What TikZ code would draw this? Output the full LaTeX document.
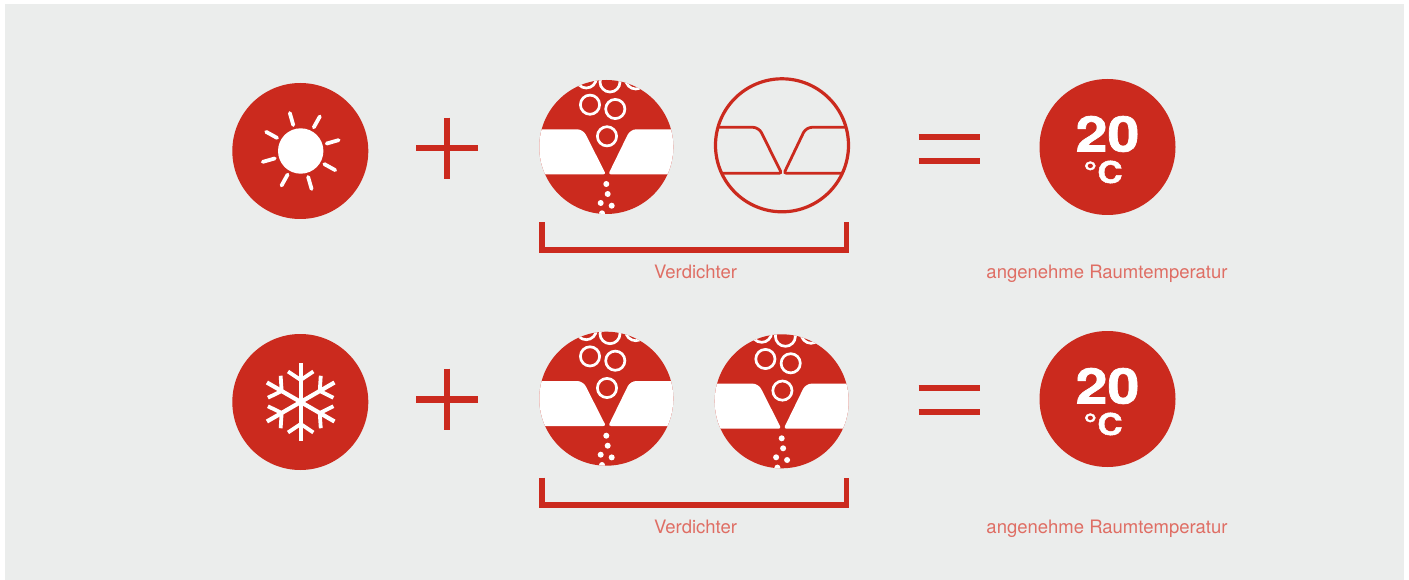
\documentclass[tikz,border=0pt]{standalone}
\usepackage{fontspec}
\setmainfont{TeX Gyre Heros}
\newfontfamily\tempfont[FakeStretch=1.17,BoldFeatures={FakeBold=1.5}]{TeX Gyre Heros}
\definecolor{bgrey}{HTML}{EBEDEC}
\definecolor{kred}{HTML}{CB2A1E}
\definecolor{lred}{HTML}{DF6E64}
\tikzset{
  caption/.style={text=lred,font=\fontsize{18.5}{20}\selectfont,inner sep=0pt,anchor=base},
  temptext/.style={text=white,font=\tempfont\bfseries\fontsize{#1}{#1}\selectfont,inner sep=0pt},
  bar/.style={kred,line width=6.4pt},
  bubble/.style={white,line width=2.7pt}
}
% left and right wing of the compressor, relative to its centre
\newcommand{\leftwing}[2]{(-80,#1) [rounded corners=6pt] -- (-23.2,#1) [rounded corners=2.5pt] -- (-0.4,#2) -- (-80,#2) [sharp corners] -- cycle}
\newcommand{\rightwing}[2]{(80,#1) [rounded corners=6pt] -- (24,#1) [rounded corners=2.5pt] -- (2,#2) -- (80,#2) [sharp corners] -- cycle}
\begin{document}
\begin{tikzpicture}[x=1pt,y=-1pt]
  \useasboundingbox (0,0) rectangle (1409,580);
  \fill[white] (0,0) rectangle (1409,580);
  \fill[bgrey] (5,4) rectangle (1404,580);
  % sun
  \fill[kred] (300.3,151) circle (68);
  \fill[white] (300.7,151) circle (22.7);
  \foreach \a in {16,61,...,331}
    \draw[white,line width=3.8pt,line cap=round] (300.7,151) ++(-\a:27) -- ++(-\a:12.5);
  % snowflake
  \fill[kred] (300.3,402) circle (68);
  \begin{scope}[shift={(300.7,402)}]
    \foreach \a in {30,90,...,330} {
      \begin{scope}[rotate=\a]
        \draw[white,line width=4.2pt] (0,0) -- (39,0);
        \draw[white,line width=3.8pt] (30.5,-12.7) -- (22,0) -- (30.5,12.7);
      \end{scope}
    }
  \end{scope}
  % plus and equals
  \foreach \py/\ey in {148.3/148.8,399.3/399.8} {
    \draw[bar] (416.3,\py) -- (477.7,\py);
    \draw[bar] (446.9,\py-30.7) -- (446.9,\py+30.7);
    \draw[bar] (918.7,\ey-12) -- (980.3,\ey-12);
    \draw[bar] (918.7,\ey+12) -- (980.3,\ey+12);
  }
  % filled compressors
  \foreach \cx/\cy in {606.3/147,606.3/398.7,781.7/401.3} {
    \begin{scope}[shift={(\cx,\cy)}]
      \fill[kred] (0,0) circle (67);
      \begin{scope}
        \clip (0,0) circle (67);
        \fill[white] \leftwing{-17.7}{27.3};
        \fill[white] \rightwing{-17.7}{27.3};
        \draw[bubble] (-16.3,-42.3) circle (9.6);
        \draw[bubble] (9,-38) circle (9.6);
        \draw[bubble] (0.7,-10.7) circle (9.6);
        \draw[bubble] (3.7,-65) circle (10);
        \draw[bubble] (-20,-69) circle (10);
        \draw[bubble] (29.4,-68) circle (10);
        \fill[white] (0,37) circle (3);
        \fill[white] (1.4,47) circle (3);
        \fill[white] (-5.6,56) circle (3);
        \fill[white] (5.4,58.7) circle (3);
        \fill[white] (-4.3,66.3) circle (3);
      \end{scope}
    \end{scope}
  }
  % empty compressor
  \begin{scope}[shift={(782,145.3)}]
    \begin{scope}
      \clip (0,0) circle (67);
      \draw[kred,line width=2.8pt] \leftwing{-18}{28};
      \draw[kred,line width=2.8pt] \rightwing{-18}{28};
    \end{scope}
    \draw[kred,line width=3.2pt] (0,0) circle (66.5);
  \end{scope}
  % brackets and labels
  \foreach \by/\ly/\tn in {250/278.5/a,505/533.5/b} {
    \draw[bar,line width=5.4pt] (542,\by-27.5) -- (542,\by) -- (846.2,\by) -- (846.2,\by-27.5);
    \node[caption] (verd\tn) at (695.5,\ly) {Verdichter};
    \node[caption] (room\tn) at (1107,\ly) {angenehme Raumtemperatur};
  }
  % temperature
  \foreach \ty/\tn in {147/a,399/b} {
    \fill[kred] (1107.5,\ty) circle (68);
    \node[temptext=49] (deg\tn) at (1107.5,\ty-13) {20};
    \node[temptext=30] (unit\tn) at (1103,\ty+25) {°C};
  }
\end{tikzpicture}
\end{document}
